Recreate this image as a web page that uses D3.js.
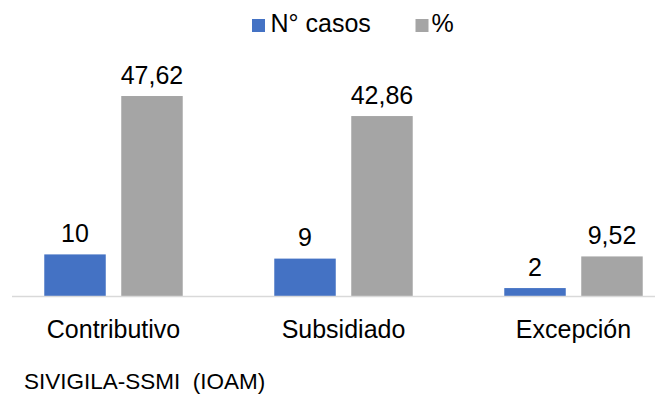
<!DOCTYPE html>
<html>
<head>
<meta charset="utf-8">
<script src="https://cdn.jsdelivr.net/npm/d3@7/dist/d3.min.js"></script>
<style>
  html, body { margin: 0; padding: 0; background: #fff; }
  svg { display: block; font-family: "Liberation Sans", Arial, sans-serif; }
</style>
</head>
<body>
<svg id="chart" width="655" height="395"></svg>
<script>
// Régimen de afiliación: número de casos y porcentaje
const categories = ["Contributivo", "Subsidiado", "Excepción"];
const seriesNames = ["N° casos", "%"];
const casos = [10, 9, 2];
const porcentaje = [47.62, 42.86, 9.52];
const valueLabels = [["10", "47,62"], ["9", "42,86"], ["2", "9,52"]];
const sourceNote = "SIVIGILA-SSMI  (IOAM)";

const colors = ["#4472C4", "#A5A5A5"];

const svg = d3.select("#chart");
const baseY = 296.5;

const x0 = d3.scaleBand()
  .domain(categories)
  .range([-1.5, 688.5])
  .paddingInner(0.398)
  .paddingOuter(0.199);

const x1 = d3.scaleBand()
  .domain(seriesNames)
  .range([0, x0.bandwidth()])
  .paddingInner(0.2013);

const y = d3.scaleLinear().domain([0, 50]).range([baseY, 86]);

const color = d3.scaleOrdinal().domain(seriesNames).range(colors);

const rows = categories.map((c, i) => ({
  cat: c,
  vals: [
    { s: seriesNames[0], v: casos[i], label: valueLabels[i][0] },
    { s: seriesNames[1], v: porcentaje[i], label: valueLabels[i][1] }
  ]
}));

// Bars
const groups = svg.append("g").selectAll("g")
  .data(rows).join("g")
  .attr("transform", d => `translate(${x0(d.cat)},0)`);

groups.selectAll("rect")
  .data(d => d.vals).join("rect")
  .attr("x", d => x1(d.s))
  .attr("y", d => y(d.v))
  .attr("width", x1.bandwidth())
  .attr("height", d => y(0) - y(d.v))
  .attr("fill", d => color(d.s));

// Value labels
groups.selectAll("text")
  .data(d => d.vals).join("text")
  .attr("x", d => x1(d.s) + x1.bandwidth() / 2)
  .attr("y", d => y(d.v) - 12.5)
  .attr("text-anchor", "middle")
  .attr("font-size", 25)
  .attr("fill", "#000")
  .text(d => d.label);

// Category axis
svg.append("line")
  .attr("x1", 12).attr("x2", 655)
  .attr("y1", baseY).attr("y2", baseY)
  .attr("stroke", "#D9D9D9").attr("stroke-width", 1.5);

const axis = svg.append("g")
  .attr("transform", `translate(0,${baseY})`)
  .call(d3.axisBottom(x0).tickSize(0).tickPadding(0));
axis.select(".domain").remove();
axis.selectAll("text")
  .attr("dy", null)
  .attr("y", 41)
  .attr("font-size", 25)
  .attr("font-family", "Liberation Sans, Arial, sans-serif")
  .attr("fill", "#000");

// Legend
const legend = svg.append("g");
const legendItems = [
  { s: seriesNames[0], sx: 252, tx: 270.5 },
  { s: seriesNames[1], sx: 415.5, tx: 431.5 }
];
legend.selectAll("rect")
  .data(legendItems).join("rect")
  .attr("x", d => d.sx).attr("y", 19)
  .attr("width", 13).attr("height", 13)
  .attr("fill", d => color(d.s));
legend.selectAll("text")
  .data(legendItems).join("text")
  .attr("x", d => d.tx).attr("y", 31.5)
  .attr("font-size", 25)
  .attr("fill", "#000")
  .text(d => d.s);

// Source note
svg.append("text")
  .attr("x", 24).attr("y", 389)
  .attr("font-size", 22.5)
  .attr("fill", "#000")
  .style("white-space", "pre")
  .text(sourceNote);
</script>
</body>
</html>
